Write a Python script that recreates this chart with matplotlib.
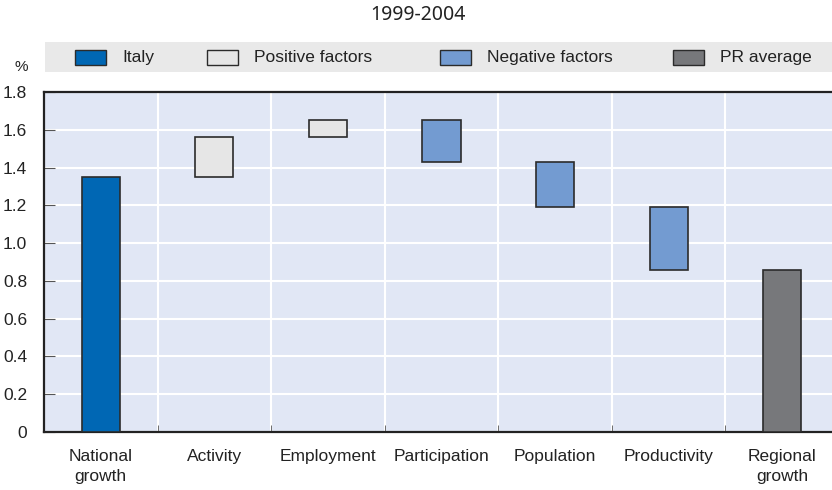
import matplotlib
matplotlib.use("Agg")
import matplotlib.pyplot as plt
from matplotlib.patches import Rectangle
from matplotlib import font_manager
import numpy as np

categories = ["National\ngrowth", "Activity", "Employment", "Participation",
              "Population", "Productivity", "Regional\ngrowth"]
bar_bottom = [0.0, 1.35, 1.56, 1.43, 1.19, 0.86, 0.0]
bar_top = [1.35, 1.56, 1.65, 1.65, 1.43, 1.19, 0.86]
bar_kind = ["Italy", "Positive factors", "Positive factors", "Negative factors",
            "Negative factors", "Negative factors", "PR average"]
legend_labels = ["Italy", "Positive factors", "Negative factors", "PR average"]
yticks = [0, 0.2, 0.4, 0.6, 0.8, 1.0, 1.2, 1.4, 1.6, 1.8]
ytick_labels = ["0", "0.2", "0.4", "0.6", "0.8", "1.0", "1.2", "1.4", "1.6", "1.8"]
title = "1999-2004"

colors = {"Italy": "#0067b4", "Positive factors": "#e6e6e6",
          "Negative factors": "#739bd1", "PR average": "#77787b"}

names = {f.name for f in font_manager.fontManager.ttflist}
cond = "Liberation Sans Narrow" if "Liberation Sans Narrow" in names else "Liberation Sans"
plt.rcParams['font.family'] = [cond, 'DejaVu Sans']

fig = plt.figure(figsize=(8.32, 4.9), dpi=100)
ax = fig.add_axes([44/832, 1-432/490, 795/832, 340/490])
ax.set_facecolor("#e1e7f5")

x = np.arange(len(categories))
heights = [t - b for t, b in zip(bar_top, bar_bottom)]
ax.bar(x, heights, bottom=bar_bottom, width=0.335,
       color=[colors[k] for k in bar_kind], edgecolor="#2b2b2b", linewidth=1.2, zorder=3)

ax.set_xlim(-0.5, len(categories) - 0.5)
ax.set_ylim(0, 1.8)
ax.set_yticks(yticks)
ax.set_yticklabels(ytick_labels, fontsize=12.5, color="#222222")
ax.set_xticks(x)
ax.set_xticklabels(categories, fontsize=12.5, color="#222222", linespacing=1.45)
ax.set_xticks(np.arange(0.5, len(categories) - 0.5, 1), minor=True)
ax.tick_params(axis="x", which="major", length=0, pad=12)
ax.tick_params(axis="x", which="minor", direction="in", length=5, color="#555555")
ax.tick_params(axis="y", direction="in", length=8, color="#555555", pad=12)

ax.grid(True, axis="y", which="major", color="white", linewidth=1.5, zorder=1)
ax.grid(True, axis="x", which="minor", color="white", linewidth=1.5, zorder=1)
ax.set_axisbelow(True)
for s in ["left", "bottom", "top"]:
    ax.spines[s].set_color("#222222")
    ax.spines[s].set_linewidth(1.6)
ax.spines["right"].set_visible(False)

# legend band
fig.patches.append(Rectangle((45/832, 1-72/490), (832-45)/832, 30/490,
                             transform=fig.transFigure, facecolor="#e9e9e9",
                             edgecolor="none", zorder=0))
patch_x = [75, 207, 440, 673]
for lab, px in zip(legend_labels, patch_x):
    fig.patches.append(Rectangle((px/832, 1-65/490), 31/832, 15/490,
                                 transform=fig.transFigure, facecolor=colors[lab],
                                 edgecolor="#2b2b2b", linewidth=1.0, zorder=2))
    fig.text((px + 47)/832, 1-57.5/490, lab, fontsize=12.5, color="#222222",
             va="center", ha="left")

fig.text(21/832, 1-67/490, "%", fontsize=11, color="#222222", ha="center", va="center")
fig.text(418/832, 1-15/490, title, fontsize=14, color="#222222", ha="center",
         va="center", family=["Noto Sans", "DejaVu Sans"])

fig.savefig("out.png", dpi=100)
